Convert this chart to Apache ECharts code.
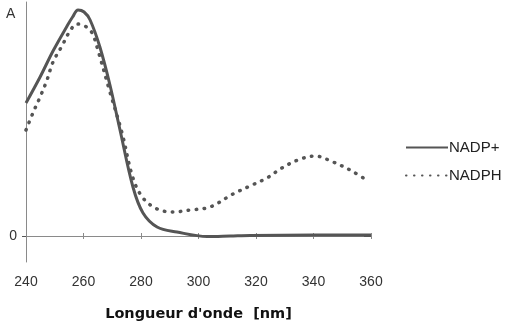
<!DOCTYPE html>
<html>
<head>
<meta charset="utf-8">
<script src="https://cdn.jsdelivr.net/npm/echarts@6/dist/echarts.min.js"></script>
<style>
html,body{margin:0;padding:0;background:#fff;}
#chart{width:513px;height:328px;}
</style>
</head>
<body>
<div id="chart"></div>
<script>
// Wavelengths (nm) and absorbance (arbitrary units)
const nadpPlus = [
  [240,133],[244.9,159],[249.4,185],[254.3,210],[256.2,219],[258.1,226],[260.2,224],[262.3,216],[265.7,189],
  [269.2,151],[272.7,106],[277.2,49],[280.7,23],[285.6,9],[292.5,4],[303,-0.5],
  [311,0],[318,0.5],[340,1],[360,1]
];
const nadph = [
  [240,106],[242.4,123],[244.9,139],[247.3,156],[249.4,174],[252.5,190],[255.3,205],
  [257.7,212],[260.5,210],[263,203],[265,186],[269,146],[273.4,103],[277.2,58],
  [280.7,38],[285.6,27],[291.1,24],[297,26],[304,29],[312,42],[317.9,50],[323.8,58],
  [329,68],[334.6,76],[340.5,80],[346.8,74],[352.7,66],[357.9,57]
];
const xTicks = [240,260,280,300,320,340,360];
const yTicks = [0];
const seriesNames = ['NADP+','NADPH'];
const xTitle = "Longueur d'onde  [nm]";
const yTitle = 'A';

const chart = echarts.init(document.getElementById('chart'), null, {renderer:'canvas'});
const axisColor = '#8a8a8a';
const textColor = '#333';
const font = 'Liberation Sans, Arial, sans-serif';

const xCommon = {
  type:'value', min:240, max:360, interval:20, position:'bottom',
  splitLine:{show:false}
};
const yCommon = {
  type:'value', min:-26, max:234, splitLine:{show:false}
};

chart.setOption({
  animation:false,
  backgroundColor:'#fff',
  grid:{left:26, right:142, top:2, bottom:66, containLabel:false},
  legend:{
    orient:'vertical', left:400, top:135, itemWidth:42, itemHeight:14, itemGap:13,
    itemStyle:{opacity:0, borderWidth:0},
    textStyle:{fontFamily:font, fontSize:15, color:'#222', padding:[0,0,0,-4]},
    data:seriesNames
  },
  graphic:[{
    type:'text', left:6, top:7,
    style:{text:yTitle, fontFamily:font, fontSize:14, fill:textColor}
  }],
  xAxis:[
    Object.assign({}, xCommon, {
      axisLine:{show:true, lineStyle:{color:axisColor, width:1}},
      axisTick:{show:true, inside:false, length:3, lineStyle:{color:axisColor}},
      axisLabel:{show:true, margin:13, color:textColor, fontFamily:font, fontSize:14, customValues:xTicks},
      name:xTitle, nameLocation:'middle', nameGap:45,
      nameTextStyle:{fontFamily:'DejaVu Sans, sans-serif', fontWeight:'bold', fontSize:14.5, color:'#111'}
    }),
    Object.assign({}, xCommon, {
      axisLine:{show:false},
      axisTick:{show:true, inside:true, length:3, lineStyle:{color:axisColor}},
      axisLabel:{show:false}
    })
  ],
  yAxis:[
    Object.assign({}, yCommon, {
      axisLine:{show:true, lineStyle:{color:axisColor, width:1}},
      axisTick:{show:true, inside:false, length:4, customValues:yTicks, lineStyle:{color:'#555'}},
      axisLabel:{show:true, margin:9, color:textColor, fontFamily:font, fontSize:14, customValues:yTicks}
    }),
    Object.assign({}, yCommon, {
      axisLine:{show:false},
      axisTick:{show:true, inside:true, length:7, customValues:yTicks, lineStyle:{color:'#555'}},
      axisLabel:{show:false}
    })
  ],
  series:[
    {
      name:seriesNames[0], type:'line', data:nadpPlus, smooth:0.35, showSymbol:false, symbol:'none',
      lineStyle:{color:'#555', width:3}, itemStyle:{color:'#555'}
    },
    {
      name:seriesNames[1], type:'line', data:nadph, smooth:0.35, showSymbol:false, symbol:'none',
      lineStyle:{color:'#555', width:3.5, type:[0.5,7.5], cap:'round'}, itemStyle:{color:'#555'}
    }
  ]
});
</script>
</body>
</html>
